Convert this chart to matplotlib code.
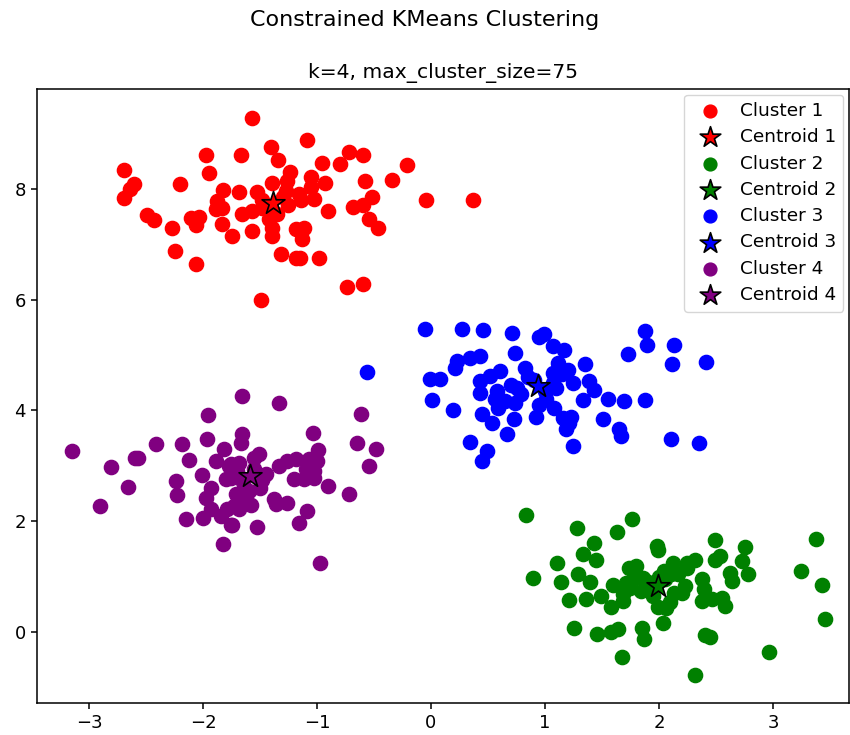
import matplotlib
matplotlib.use("Agg")
import matplotlib.pyplot as plt
import numpy as np

# Cluster 1 (red)
c1_x = [-1.571, -1.403, -1.977, -1.668, -1.342, -2.692, -1.951, -1.236, -2.198, -2.604,
        -2.639, -2.692, -1.395, -1.827, -1.686, -1.527, -1.271, -1.880, -1.836, -1.889,
        -1.659, -1.571, -1.483, -2.489, -2.427, -2.101, -2.039, -2.065, -2.268, -1.836,
        -1.748, -1.571, -1.395, -1.395, -1.183, -2.242, -1.315, -1.183, -2.065, -1.492,
        -1.086, -0.715, -0.600, -0.953, -0.794, -0.212, -1.050, -0.927, -0.583, -0.344,
        -1.262, -1.156, -1.050, -1.024, -1.139, -0.521, -0.044, 0.371, -0.688, -0.600,
        -0.900, -0.547, -0.468, -1.112, -1.130, -1.147, -0.980, -0.733, -0.600,
        -1.45, -1.30, -1.35, -1.48, -1.25, -1.42]
c1_y = [9.28, 8.75, 8.61, 8.61, 8.52, 8.34, 8.29, 8.30, 8.09, 8.09,
        8.00, 7.83, 8.10, 7.98, 7.94, 7.94, 7.96, 7.78, 7.65, 7.64,
        7.55, 7.60, 7.65, 7.53, 7.44, 7.47, 7.49, 7.35, 7.29, 7.36,
        7.15, 7.24, 7.29, 7.15, 7.27, 6.88, 6.82, 6.75, 6.64, 5.99,
        8.88, 8.66, 8.61, 8.47, 8.45, 8.43, 8.21, 8.10, 8.14, 8.16,
        8.14, 7.91, 8.03, 7.82, 7.80, 7.85, 7.80, 7.80, 7.67, 7.71,
        7.60, 7.45, 7.29, 7.29, 7.09, 6.75, 6.75, 6.23, 6.28,
        7.70, 7.85, 7.55, 7.80, 7.70, 7.45]

# Cluster 2 (green)
c2_x = [0.830, 1.280, 1.765, 1.633, 1.430, 1.986, 1.995, 1.333, 1.447, 1.103,
        0.891, 1.289, 1.139, 1.395, 1.739, 1.801, 1.862, 1.712, 1.845, 2.048,
        2.127, 2.136, 1.209, 1.359, 1.492, 1.580, 1.686, 1.686, 1.995, 2.065,
        2.039, 1.253, 1.456, 1.580, 1.642, 1.853, 1.871, 1.677, 2.489, 2.754,
        2.533, 2.489, 2.727, 2.780, 2.621, 2.639, 2.312, 2.242, 2.109, 2.171,
        2.224, 2.374, 2.392, 2.374, 2.462, 2.551, 2.577, 2.445, 2.312, 2.966,
        3.248, 3.380, 3.433, 3.460, 2.40, 1.90, 2.05, 1.75, 1.95, 2.20,
        1.60, 2.00, 2.10, 1.80, 2.25]
c2_y = [2.11, 1.88, 2.04, 1.81, 1.61, 1.55, 1.48, 1.41, 1.30, 1.25,
        0.97, 1.05, 0.90, 0.90, 1.16, 1.19, 0.97, 0.88, 0.74, 1.10,
        1.25, 0.70, 0.58, 0.60, 0.65, 0.45, 0.56, 0.69, 0.45, 0.43,
        0.16, 0.07, -0.04, 0.00, 0.05, 0.07, -0.13, -0.45, 1.66, 1.53,
        1.37, 1.30, 1.28, 1.05, 1.06, 0.92, 1.30, 1.25, 1.05, 1.05,
        0.83, 0.96, 0.78, 0.56, 0.60, 0.61, 0.47, -0.09, -0.78, -0.36,
        1.10, 1.68, 0.85, 0.23, -0.05, 0.90, 0.95, 0.80, 0.65, 0.70,
        0.85, 1.00, 0.55, 1.00, 1.15]

# Cluster 3 (blue)
c3_x = [-0.053, 0.274, 0.459, 0.715, 0.944, 0.989, 1.068, 1.165, 0.741, 0.432,
        0.344, 0.229, 0.212, 1.112, 0.821, 0.609, 0.521, 0.432, -0.009, 0.079,
        1.068, 1.200, 1.244, 1.068, 0.432, 0.583, 0.759, 0.786, 0.565, 0.653,
        0.741, 1.006, 1.077, 0.009, 0.194, 0.591, 0.450, 0.724, 0.918, 0.538,
        1.156, 1.209, 1.183, 0.671, 0.344, 0.494, 0.450, 1.244, 1.880, 1.898,
        2.136, 1.730, 2.118, 2.410, 1.350, 1.386, 1.430, 1.333, 1.553, 1.695,
        1.880, 1.227, 1.509, 1.650, 1.668, 2.109, 2.348, -0.565, 0.90, 1.00,
        0.85, 1.10, 0.70, 0.95, 1.15]
c3_y = [5.47, 5.47, 5.45, 5.40, 5.32, 5.38, 5.16, 5.09, 5.04, 4.98,
        4.95, 4.89, 4.77, 4.86, 4.77, 4.71, 4.62, 4.53, 4.57, 4.57,
        4.68, 4.73, 4.49, 4.49, 4.31, 4.35, 4.40, 4.30, 4.21, 4.17,
        4.13, 4.21, 4.04, 4.19, 4.01, 4.04, 3.94, 3.84, 3.88, 3.77,
        3.86, 3.77, 3.66, 3.57, 3.43, 3.27, 3.09, 3.36, 5.43, 5.18,
        5.18, 5.02, 4.84, 4.87, 4.84, 4.53, 4.37, 4.19, 4.21, 4.17,
        4.19, 3.88, 3.84, 3.66, 3.54, 3.48, 3.41, 4.69, 4.55, 4.35,
        4.60, 4.40, 4.45, 4.10, 4.65]

# Cluster 4 (purple)
c4_x = [-1.659, -1.959, -3.151, -2.410, -2.180, -1.968, -1.668, -1.659, -1.818, -2.595,
        -2.568, -2.807, -2.127, -1.889, -1.774, -2.012, -1.801, -2.657, -2.233, -2.224,
        -1.933, -1.977, -1.712, -1.686, -2.904, -1.933, -1.792, -2.145, -2.004, -1.845,
        -1.756, -1.827, -1.333, -0.618, -1.033, -0.653, -0.485, -0.547, -0.989, -1.509,
        -1.333, -1.262, -1.183, -1.068, -0.997, -1.094, -1.024, -1.200, -1.112, -1.024,
        -0.900, -0.715, -1.730, -1.377, -1.359, -1.262, -1.086, -1.156, -1.527, -0.971,
        -1.756, -1.756, -1.659, -1.748, -1.55, -1.65, -1.50, -1.60, -1.70, -1.45,
        -1.55, -1.62, -1.48, -1.58, -1.68]
c4_y = [4.26, 3.92, 3.27, 3.39, 3.39, 3.48, 3.41, 3.57, 3.30, 3.14,
        3.14, 2.98, 3.10, 3.09, 3.00, 2.83, 2.76, 2.62, 2.73, 2.47,
        2.60, 2.42, 2.49, 2.22, 2.27, 2.22, 2.22, 2.04, 2.06, 2.09,
        1.93, 1.59, 4.13, 3.94, 3.59, 3.41, 3.30, 3.00, 3.29, 3.21,
        3.00, 3.09, 3.12, 3.12, 3.09, 2.94, 2.91, 2.76, 2.76, 2.78,
        2.64, 2.49, 2.27, 2.40, 2.31, 2.33, 2.18, 1.97, 1.90, 1.25,
        3.03, 2.78, 2.45, 1.93, 2.95, 2.70, 2.60, 2.55, 2.90, 2.85,
        3.15, 2.40, 2.75, 2.30, 3.05]

centroid_x = [-1.39, 1.995, 0.94, -1.589]
centroid_y = [7.74, 0.83, 4.44, 2.82]

cluster_names = ["Cluster 1", "Cluster 2", "Cluster 3", "Cluster 4"]
centroid_names = ["Centroid 1", "Centroid 2", "Centroid 3", "Centroid 4"]
colors = ["red", "green", "blue", "purple"]

clusters_x = [c1_x, c2_x, c3_x, c4_x]
clusters_y = [c1_y, c2_y, c3_y, c4_y]

fig = plt.figure(figsize=(8.5, 7.35), dpi=100)
ax = fig.add_axes([37/850, 1 - 703/735, (849 - 37)/850, (703 - 89)/735])

for i in range(4):
    ax.scatter(clusters_x[i], clusters_y[i], s=105, c=colors[i], label=cluster_names[i])
    ax.scatter([centroid_x[i]], [centroid_y[i]], s=300, c=colors[i], marker="*",
               edgecolors="black", linewidths=1.2, label=centroid_names[i])

ax.set_xlim(-3.456, 3.667)
ax.set_ylim(-1.28, 9.80)
ax.set_xticks([-3, -2, -1, 0, 1, 2, 3])
ax.set_yticks([0, 2, 4, 6, 8])
ax.tick_params(labelsize=13, length=4.5, width=1.1)
for sp in ax.spines.values():
    sp.set_linewidth(1.1)
ax.set_title("k=4, max_cluster_size=75", fontsize=14.6, pad=8)
fig.text(0.5, 1 - 20/735, "Constrained KMeans Clustering", ha="center", va="center", fontsize=16)
leg = ax.legend(loc="upper right", fontsize=13.3, markerscale=0.9,
                borderaxespad=0.3, labelspacing=0.45, handletextpad=0.6)

fig.savefig("out.png", dpi=100)
